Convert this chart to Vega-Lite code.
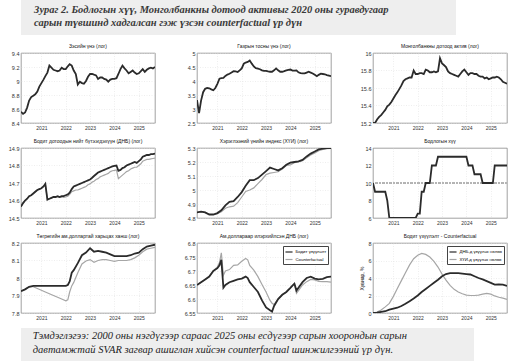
{
  "$schema": "https://vega.github.io/schema/vega-lite/v6.json",
  "padding": {"left": 7, "top": 0, "right": 4, "bottom": 0},
  "background": "white",
  "config": {
    "font": "Liberation Sans",
    "view": {"stroke": "#7a7a7a", "strokeWidth": 0.7},
    "axis": {"labelFontSize": 5.5, "labelColor": "#333", "ticks": false, "domain": false, "gridColor": "#dcdcdc", "gridDash": [1, 1.5], "gridWidth": 0.5, "labelPadding": 2},
    "title": {"fontSize": 5, "fontWeight": "normal", "offset": 2, "color": "#111"},
    "legend": {"orient": "top-right", "offset": 3, "fillColor": "#ffffff", "strokeColor": "#444", "padding": 1.5, "labelFontSize": 4.3, "symbolType": "stroke", "symbolSize": 50, "symbolStrokeWidth": 1.2, "rowPadding": 0.5, "labelOffset": 2, "labelLimit": 200}
  },
  "datasets": {
    "p1": [{"d":"2020-03","v":8.56},{"d":"2020-04","v":8.53},{"d":"2020-05","v":8.55},{"d":"2020-06","v":8.62},{"d":"2020-07","v":8.72},{"d":"2020-08","v":8.77},{"d":"2020-09","v":8.79},{"d":"2020-10","v":8.81},{"d":"2020-11","v":8.85},{"d":"2020-12","v":8.92},{"d":"2021-01","v":8.97},{"d":"2021-02","v":9.02},{"d":"2021-03","v":9.07},{"d":"2021-04","v":9.12},{"d":"2021-05","v":9.22},{"d":"2021-06","v":9.19},{"d":"2021-07","v":9.16},{"d":"2021-08","v":9.15},{"d":"2021-09","v":9.14},{"d":"2021-10","v":9.15},{"d":"2021-11","v":9.19},{"d":"2021-12","v":9.17},{"d":"2022-01","v":9.17},{"d":"2022-02","v":9.21},{"d":"2022-03","v":9.24},{"d":"2022-04","v":9.22},{"d":"2022-05","v":9.15},{"d":"2022-06","v":9.1},{"d":"2022-07","v":8.95},{"d":"2022-08","v":8.99},{"d":"2022-09","v":8.97},{"d":"2022-10","v":8.96},{"d":"2022-11","v":9.0},{"d":"2022-12","v":9.06},{"d":"2023-01","v":9.1},{"d":"2023-02","v":9.1},{"d":"2023-03","v":9.09},{"d":"2023-04","v":9.08},{"d":"2023-05","v":9.03},{"d":"2023-06","v":9.05},{"d":"2023-07","v":9.05},{"d":"2023-08","v":9.03},{"d":"2023-09","v":9.02},{"d":"2023-10","v":8.99},{"d":"2023-11","v":9.02},{"d":"2023-12","v":9.03},{"d":"2024-01","v":9.03},{"d":"2024-02","v":9.04},{"d":"2024-03","v":9.1},{"d":"2024-04","v":9.17},{"d":"2024-05","v":9.22},{"d":"2024-06","v":9.18},{"d":"2024-07","v":9.15},{"d":"2024-08","v":9.11},{"d":"2024-09","v":9.13},{"d":"2024-10","v":9.15},{"d":"2024-11","v":9.12},{"d":"2024-12","v":9.1},{"d":"2025-01","v":9.11},{"d":"2025-02","v":9.14},{"d":"2025-03","v":9.17},{"d":"2025-04","v":9.13},{"d":"2025-05","v":9.16},{"d":"2025-06","v":9.18},{"d":"2025-07","v":9.19},{"d":"2025-08","v":9.18},{"d":"2025-09","v":9.2}],
    "p2": [{"d":"2020-03","v":3.32},{"d":"2020-04","v":2.85},{"d":"2020-05","v":3.3},{"d":"2020-06","v":3.6},{"d":"2020-07","v":3.72},{"d":"2020-08","v":3.75},{"d":"2020-09","v":3.74},{"d":"2020-10","v":3.7},{"d":"2020-11","v":3.67},{"d":"2020-12","v":3.75},{"d":"2021-01","v":3.9},{"d":"2021-02","v":4.08},{"d":"2021-03","v":4.1},{"d":"2021-04","v":4.11},{"d":"2021-05","v":4.18},{"d":"2021-06","v":4.23},{"d":"2021-07","v":4.26},{"d":"2021-08","v":4.3},{"d":"2021-09","v":4.35},{"d":"2021-10","v":4.34},{"d":"2021-11","v":4.32},{"d":"2021-12","v":4.38},{"d":"2022-01","v":4.45},{"d":"2022-02","v":4.62},{"d":"2022-03","v":4.66},{"d":"2022-04","v":4.68},{"d":"2022-05","v":4.73},{"d":"2022-06","v":4.62},{"d":"2022-07","v":4.52},{"d":"2022-08","v":4.46},{"d":"2022-09","v":4.44},{"d":"2022-10","v":4.42},{"d":"2022-11","v":4.38},{"d":"2022-12","v":4.36},{"d":"2023-01","v":4.36},{"d":"2023-02","v":4.34},{"d":"2023-03","v":4.33},{"d":"2023-04","v":4.33},{"d":"2023-05","v":4.38},{"d":"2023-06","v":4.45},{"d":"2023-07","v":4.38},{"d":"2023-08","v":4.33},{"d":"2023-09","v":4.33},{"d":"2023-10","v":4.35},{"d":"2023-11","v":4.38},{"d":"2023-12","v":4.4},{"d":"2024-01","v":4.41},{"d":"2024-02","v":4.37},{"d":"2024-03","v":4.37},{"d":"2024-04","v":4.38},{"d":"2024-05","v":4.31},{"d":"2024-06","v":4.28},{"d":"2024-07","v":4.27},{"d":"2024-08","v":4.27},{"d":"2024-09","v":4.3},{"d":"2024-10","v":4.33},{"d":"2024-11","v":4.3},{"d":"2024-12","v":4.27},{"d":"2025-01","v":4.22},{"d":"2025-02","v":4.17},{"d":"2025-03","v":4.22},{"d":"2025-04","v":4.26},{"d":"2025-05","v":4.25},{"d":"2025-06","v":4.24},{"d":"2025-07","v":4.21},{"d":"2025-08","v":4.19},{"d":"2025-09","v":4.17}],
    "p3": [{"d":"2020-03","v":15.2},{"d":"2020-04","v":15.2},{"d":"2020-05","v":15.24},{"d":"2020-06","v":15.27},{"d":"2020-07","v":15.29},{"d":"2020-08","v":15.32},{"d":"2020-09","v":15.35},{"d":"2020-10","v":15.39},{"d":"2020-11","v":15.41},{"d":"2020-12","v":15.44},{"d":"2021-01","v":15.48},{"d":"2021-02","v":15.52},{"d":"2021-03","v":15.55},{"d":"2021-04","v":15.59},{"d":"2021-05","v":15.63},{"d":"2021-06","v":15.68},{"d":"2021-07","v":15.7},{"d":"2021-08","v":15.71},{"d":"2021-09","v":15.72},{"d":"2021-10","v":15.72},{"d":"2021-11","v":15.8},{"d":"2021-12","v":15.76},{"d":"2022-01","v":15.76},{"d":"2022-02","v":15.77},{"d":"2022-03","v":15.77},{"d":"2022-04","v":15.76},{"d":"2022-05","v":15.81},{"d":"2022-06","v":15.8},{"d":"2022-07","v":15.78},{"d":"2022-08","v":15.78},{"d":"2022-09","v":15.79},{"d":"2022-10","v":15.78},{"d":"2022-11","v":15.79},{"d":"2022-12","v":15.94},{"d":"2023-01","v":15.88},{"d":"2023-02","v":15.86},{"d":"2023-03","v":15.84},{"d":"2023-04","v":15.79},{"d":"2023-05","v":15.77},{"d":"2023-06","v":15.76},{"d":"2023-07","v":15.75},{"d":"2023-08","v":15.74},{"d":"2023-09","v":15.73},{"d":"2023-10","v":15.76},{"d":"2023-11","v":15.79},{"d":"2023-12","v":15.81},{"d":"2024-01","v":15.78},{"d":"2024-02","v":15.75},{"d":"2024-03","v":15.77},{"d":"2024-04","v":15.77},{"d":"2024-05","v":15.76},{"d":"2024-06","v":15.76},{"d":"2024-07","v":15.74},{"d":"2024-08","v":15.73},{"d":"2024-09","v":15.73},{"d":"2024-10","v":15.71},{"d":"2024-11","v":15.72},{"d":"2024-12","v":15.7},{"d":"2025-01","v":15.71},{"d":"2025-02","v":15.72},{"d":"2025-03","v":15.72},{"d":"2025-04","v":15.73},{"d":"2025-05","v":15.72},{"d":"2025-06","v":15.7},{"d":"2025-07","v":15.67},{"d":"2025-08","v":15.66},{"d":"2025-09","v":15.65}],
    "p4": [{"d":"2020-03","a":14.565,"b":14.565},{"d":"2020-04","a":14.585,"b":14.585},{"d":"2020-05","a":14.6,"b":14.6},{"d":"2020-06","a":14.61,"b":14.61},{"d":"2020-07","a":14.625,"b":14.625},{"d":"2020-08","a":14.63,"b":14.63},{"d":"2020-09","a":14.64,"b":14.64},{"d":"2020-10","a":14.65,"b":14.65},{"d":"2020-11","a":14.66,"b":14.66},{"d":"2020-12","a":14.665,"b":14.665},{"d":"2021-01","a":14.67,"b":14.67},{"d":"2021-02","a":14.68,"b":14.68},{"d":"2021-03","a":14.695,"b":14.695},{"d":"2021-04","a":14.605,"b":14.605},{"d":"2021-05","a":14.61,"b":14.61},{"d":"2021-06","a":14.615,"b":14.615},{"d":"2021-07","a":14.62,"b":14.62},{"d":"2021-08","a":14.62,"b":14.62},{"d":"2021-09","a":14.625,"b":14.622},{"d":"2021-10","a":14.62,"b":14.618},{"d":"2021-11","a":14.625,"b":14.62},{"d":"2021-12","a":14.625,"b":14.618},{"d":"2022-01","a":14.63,"b":14.62},{"d":"2022-02","a":14.635,"b":14.625},{"d":"2022-03","a":14.645,"b":14.635},{"d":"2022-04","a":14.665,"b":14.65},{"d":"2022-05","a":14.68,"b":14.655},{"d":"2022-06","a":14.685,"b":14.66},{"d":"2022-07","a":14.69,"b":14.66},{"d":"2022-08","a":14.695,"b":14.665},{"d":"2022-09","a":14.7,"b":14.67},{"d":"2022-10","a":14.705,"b":14.675},{"d":"2022-11","a":14.71,"b":14.68},{"d":"2022-12","a":14.715,"b":14.69},{"d":"2023-01","a":14.72,"b":14.695},{"d":"2023-02","a":14.73,"b":14.705},{"d":"2023-03","a":14.74,"b":14.71},{"d":"2023-04","a":14.75,"b":14.72},{"d":"2023-05","a":14.76,"b":14.725},{"d":"2023-06","a":14.765,"b":14.735},{"d":"2023-07","a":14.77,"b":14.74},{"d":"2023-08","a":14.775,"b":14.745},{"d":"2023-09","a":14.78,"b":14.75},{"d":"2023-10","a":14.785,"b":14.755},{"d":"2023-11","a":14.79,"b":14.765},{"d":"2023-12","a":14.795,"b":14.77},{"d":"2024-01","a":14.798,"b":14.772},{"d":"2024-02","a":14.8,"b":14.775},{"d":"2024-03","a":14.77,"b":14.725},{"d":"2024-04","a":14.775,"b":14.735},{"d":"2024-05","a":14.785,"b":14.745},{"d":"2024-06","a":14.79,"b":14.755},{"d":"2024-07","a":14.8,"b":14.765},{"d":"2024-08","a":14.805,"b":14.77},{"d":"2024-09","a":14.81,"b":14.78},{"d":"2024-10","a":14.815,"b":14.785},{"d":"2024-11","a":14.82,"b":14.79},{"d":"2024-12","a":14.815,"b":14.79},{"d":"2025-01","a":14.825,"b":14.8},{"d":"2025-02","a":14.835,"b":14.81},{"d":"2025-03","a":14.85,"b":14.825},{"d":"2025-04","a":14.855,"b":14.83},{"d":"2025-05","a":14.86,"b":14.835},{"d":"2025-06","a":14.86,"b":14.835},{"d":"2025-07","a":14.865,"b":14.838},{"d":"2025-08","a":14.865,"b":14.84},{"d":"2025-09","a":14.868,"b":14.842}],
    "p5": [{"d":"2020-03","a":4.84,"b":4.84},{"d":"2020-05","a":4.845,"b":4.845},{"d":"2020-07","a":4.84,"b":4.84},{"d":"2020-09","a":4.825,"b":4.825},{"d":"2020-11","a":4.825,"b":4.825},{"d":"2021-01","a":4.835,"b":4.83},{"d":"2021-03","a":4.855,"b":4.845},{"d":"2021-05","a":4.89,"b":4.87},{"d":"2021-07","a":4.915,"b":4.88},{"d":"2021-09","a":4.92,"b":4.885},{"d":"2021-11","a":4.95,"b":4.91},{"d":"2022-01","a":4.985,"b":4.95},{"d":"2022-03","a":5.03,"b":4.99},{"d":"2022-05","a":5.07,"b":5.0},{"d":"2022-07","a":5.07,"b":5.015},{"d":"2022-09","a":5.085,"b":5.045},{"d":"2022-11","a":5.11,"b":5.075},{"d":"2023-01","a":5.135,"b":5.11},{"d":"2023-03","a":5.16,"b":5.12},{"d":"2023-05","a":5.15,"b":5.125},{"d":"2023-07","a":5.14,"b":5.13},{"d":"2023-09","a":5.155,"b":5.15},{"d":"2023-11","a":5.18,"b":5.175},{"d":"2024-01","a":5.195,"b":5.18},{"d":"2024-03","a":5.2,"b":5.195},{"d":"2024-05","a":5.205,"b":5.2},{"d":"2024-07","a":5.215,"b":5.21},{"d":"2024-09","a":5.24,"b":5.23},{"d":"2024-11","a":5.26,"b":5.25},{"d":"2025-01","a":5.275,"b":5.265},{"d":"2025-03","a":5.29,"b":5.28},{"d":"2025-05","a":5.295,"b":5.29},{"d":"2025-07","a":5.3,"b":5.295},{"d":"2025-09","a":5.3,"b":5.298}],
    "p6": [{"d":"2020-03","v":10},{"d":"2020-04","v":9},{"d":"2020-09","v":9},{"d":"2020-10","v":8},{"d":"2020-11","v":6},{"d":"2021-12","v":6},{"d":"2022-01","v":6.5},{"d":"2022-02","v":6.5},{"d":"2022-03","v":9},{"d":"2022-04","v":9},{"d":"2022-05","v":10},{"d":"2022-07","v":10},{"d":"2022-08","v":12},{"d":"2022-10","v":12},{"d":"2022-11","v":13},{"d":"2024-01","v":13},{"d":"2024-02","v":12},{"d":"2024-04","v":12},{"d":"2024-05","v":11},{"d":"2024-08","v":11},{"d":"2024-09","v":10},{"d":"2025-02","v":10},{"d":"2025-03","v":12},{"d":"2025-09","v":12}],
    "p7": [{"d":"2020-03","a":7.925,"b":7.925},{"d":"2020-05","a":7.935,"b":7.935},{"d":"2020-07","a":7.95,"b":7.95},{"d":"2020-09","a":7.955,"b":7.95},{"d":"2020-11","a":7.955,"b":7.94},{"d":"2021-01","a":7.955,"b":7.93},{"d":"2021-03","a":7.955,"b":7.92},{"d":"2021-05","a":7.955,"b":7.91},{"d":"2021-07","a":7.955,"b":7.9},{"d":"2021-09","a":7.955,"b":7.89},{"d":"2021-11","a":7.955,"b":7.88},{"d":"2022-01","a":7.955,"b":7.87},{"d":"2022-02","a":7.96,"b":7.875},{"d":"2022-03","a":7.98,"b":7.92},{"d":"2022-04","a":8.03,"b":7.955},{"d":"2022-05","a":8.045,"b":7.975},{"d":"2022-07","a":8.085,"b":8.03},{"d":"2022-09","a":8.13,"b":8.08},{"d":"2022-11","a":8.145,"b":8.097},{"d":"2023-01","a":8.17,"b":8.105},{"d":"2023-03","a":8.15,"b":8.09},{"d":"2023-05","a":8.155,"b":8.1},{"d":"2023-07","a":8.15,"b":8.105},{"d":"2023-09","a":8.145,"b":8.105},{"d":"2023-11","a":8.135,"b":8.1},{"d":"2024-01","a":8.125,"b":8.095},{"d":"2024-03","a":8.125,"b":8.1},{"d":"2024-05","a":8.125,"b":8.1},{"d":"2024-07","a":8.125,"b":8.1},{"d":"2024-09","a":8.13,"b":8.105},{"d":"2024-11","a":8.14,"b":8.115},{"d":"2025-01","a":8.145,"b":8.13},{"d":"2025-03","a":8.165,"b":8.15},{"d":"2025-05","a":8.18,"b":8.165},{"d":"2025-07","a":8.185,"b":8.17},{"d":"2025-09","a":8.19,"b":8.175}],
    "p8": [{"d":"2020-03","a":6.65,"b":6.65},{"d":"2020-05","a":6.66,"b":6.66},{"d":"2020-07","a":6.67,"b":6.67},{"d":"2020-09","a":6.68,"b":6.68},{"d":"2020-11","a":6.7,"b":6.7},{"d":"2021-01","a":6.71,"b":6.715},{"d":"2021-02","a":6.72,"b":6.73},{"d":"2021-03","a":6.74,"b":6.765},{"d":"2021-04","a":6.64,"b":6.685},{"d":"2021-05","a":6.65,"b":6.7},{"d":"2021-07","a":6.66,"b":6.705},{"d":"2021-09","a":6.665,"b":6.72},{"d":"2021-11","a":6.67,"b":6.722},{"d":"2022-01","a":6.673,"b":6.735},{"d":"2022-03","a":6.68,"b":6.745},{"d":"2022-04","a":6.675,"b":6.74},{"d":"2022-05","a":6.66,"b":6.72},{"d":"2022-07","a":6.643,"b":6.703},{"d":"2022-09","a":6.625,"b":6.68},{"d":"2022-11","a":6.595,"b":6.652},{"d":"2023-01","a":6.57,"b":6.625},{"d":"2023-03","a":6.56,"b":6.595},{"d":"2023-04","a":6.555,"b":6.585},{"d":"2023-05","a":6.575,"b":6.58},{"d":"2023-07","a":6.6,"b":6.6},{"d":"2023-09","a":6.615,"b":6.615},{"d":"2023-11","a":6.625,"b":6.625},{"d":"2024-01","a":6.64,"b":6.64},{"d":"2024-02","a":6.648,"b":6.648},{"d":"2024-03","a":6.655,"b":6.655},{"d":"2024-04","a":6.63,"b":6.62},{"d":"2024-05","a":6.64,"b":6.63},{"d":"2024-07","a":6.66,"b":6.65},{"d":"2024-09","a":6.675,"b":6.662},{"d":"2024-11","a":6.68,"b":6.67},{"d":"2025-01","a":6.673,"b":6.668},{"d":"2025-03","a":6.67,"b":6.663},{"d":"2025-05","a":6.672,"b":6.662},{"d":"2025-07","a":6.678,"b":6.662},{"d":"2025-09","a":6.68,"b":6.66}],
    "p9": [{"d":"2020-03","a":0,"b":0},{"d":"2020-05","a":0.05,"b":0.1},{"d":"2020-07","a":0.12,"b":0.35},{"d":"2020-09","a":0.2,"b":0.7},{"d":"2020-11","a":0.38,"b":1.1},{"d":"2021-01","a":0.5,"b":1.9},{"d":"2021-03","a":0.6,"b":2.8},{"d":"2021-05","a":0.8,"b":3.7},{"d":"2021-07","a":1.05,"b":4.6},{"d":"2021-09","a":1.35,"b":5.5},{"d":"2021-11","a":1.65,"b":6.2},{"d":"2022-01","a":2.0,"b":6.6},{"d":"2022-03","a":2.4,"b":6.8},{"d":"2022-05","a":2.75,"b":6.7},{"d":"2022-07","a":3.1,"b":6.4},{"d":"2022-09","a":3.45,"b":5.9},{"d":"2022-11","a":3.8,"b":5.25},{"d":"2023-01","a":4.2,"b":4.45},{"d":"2023-03","a":4.45,"b":3.75},{"d":"2023-05","a":4.55,"b":3.15},{"d":"2023-07","a":4.55,"b":2.7},{"d":"2023-09","a":4.55,"b":2.4},{"d":"2023-11","a":4.5,"b":2.2},{"d":"2024-01","a":4.45,"b":2.05},{"d":"2024-03","a":4.4,"b":2.0},{"d":"2024-05","a":4.2,"b":2.0},{"d":"2024-07","a":4.0,"b":2.05},{"d":"2024-09","a":3.85,"b":2.15},{"d":"2024-11","a":3.65,"b":2.25},{"d":"2025-01","a":3.45,"b":2.15},{"d":"2025-03","a":3.25,"b":1.95},{"d":"2025-05","a":3.28,"b":1.8},{"d":"2025-07","a":3.25,"b":1.7},{"d":"2025-09","a":3.1,"b":1.55}]
  },
  "vconcat": [
    {
      "width": 435, "height": 35,
      "view": {"fill": "#eeeeee", "stroke": null},
      "data": {"values": [{"line": 1, "text": "Зураг 2. Бодлогын хүү, Монголбанкны дотоод активыг 2020 оны гуравдугаар"}, {"line": 2, "text": "сарын түвшинд хадгалсан гэж үзсэн counterfactual үр дүн"}]},
      "mark": {"type": "text", "align": "left", "baseline": "alphabetic", "font": "Liberation Serif", "fontStyle": "italic", "fontWeight": "bold", "fontSize": 10.5, "color": "#3a3a3a"},
      "encoding": {
        "x": {"datum": 0.03, "type": "quantitative", "scale": {"domain": [0, 1]}, "axis": null},
        "y": {"field": "line", "type": "quantitative", "scale": {"domain": [0, 2.69], "reverse": true}, "axis": null},
        "text": {"field": "text"}
      }
    },
    {
      "spacing": 7,
      "vconcat": [
        {
          "bounds": "flush", "spacing": 42,
          "hconcat": [
            {"width": 134, "height": 70, "title": "Зэсийн үнэ (лог)", "data": {"name": "p1"},
             "mark": {"type": "line", "color": "#2b2b2b", "strokeWidth": 1.8, "clip": true},
             "encoding": {
               "x": {"field": "d", "type": "temporal", "title": null, "scale": {"type": "utc", "domain": [{"year": 2020, "month": 3, "date": 1, "utc": true}, {"year": 2025, "month": 9, "date": 1, "utc": true}]}, "axis": {"tickCount": {"interval": "year", "step": 1}, "format": "%Y", "labelFontSize": 5}},
               "y": {"field": "v", "type": "quantitative", "title": null, "scale": {"domain": [8.4, 9.4], "nice": false, "zero": false}, "axis": {"values": [8.4, 8.6, 8.8, 9, 9.2, 9.4], "format": ".4~r"}}
             }},
            {"width": 134, "height": 70, "title": "Газрын тосны үнэ (лог)", "data": {"name": "p2"},
             "mark": {"type": "line", "color": "#2b2b2b", "strokeWidth": 1.8, "clip": true},
             "encoding": {
               "x": {"field": "d", "type": "temporal", "title": null, "scale": {"type": "utc", "domain": [{"year": 2020, "month": 3, "date": 1, "utc": true}, {"year": 2025, "month": 9, "date": 1, "utc": true}]}, "axis": {"tickCount": {"interval": "year", "step": 1}, "format": "%Y", "labelFontSize": 5}},
               "y": {"field": "v", "type": "quantitative", "title": null, "scale": {"domain": [2.5, 5], "nice": false, "zero": false}, "axis": {"values": [2.5, 3, 3.5, 4, 4.5, 5], "format": ".4~r"}}
             }},
            {"width": 134, "height": 70, "title": "Монголбанкны дотоод актив (лог)", "data": {"name": "p3"},
             "mark": {"type": "line", "color": "#2b2b2b", "strokeWidth": 1.8, "clip": true},
             "encoding": {
               "x": {"field": "d", "type": "temporal", "title": null, "scale": {"type": "utc", "domain": [{"year": 2020, "month": 3, "date": 1, "utc": true}, {"year": 2025, "month": 9, "date": 1, "utc": true}]}, "axis": {"tickCount": {"interval": "year", "step": 1}, "format": "%Y", "labelFontSize": 5}},
               "y": {"field": "v", "type": "quantitative", "title": null, "scale": {"domain": [15.2, 16], "nice": false, "zero": false}, "axis": {"values": [15.2, 15.4, 15.6, 15.8, 16], "format": ".4~r"}}
             }}
          ]
        },
        {
          "bounds": "flush", "spacing": 42,
          "hconcat": [
            {"width": 134, "height": 70, "title": "Бодит дотоодын нийт бүтээгдэхүүн (ДНБ) (лог)", "data": {"name": "p4"},
             "encoding": {
               "x": {"field": "d", "type": "temporal", "title": null, "scale": {"type": "utc", "domain": [{"year": 2020, "month": 3, "date": 1, "utc": true}, {"year": 2025, "month": 9, "date": 1, "utc": true}]}, "axis": {"tickCount": {"interval": "year", "step": 1}, "format": "%Y", "labelFontSize": 5}}
             },
             "layer": [
               {"mark": {"type": "line", "color": "#a6a6a6", "strokeWidth": 1.2, "clip": true},
                "encoding": {"y": {"field": "b", "type": "quantitative", "title": null, "scale": {"domain": [14.5, 14.9], "nice": false, "zero": false}, "axis": {"values": [14.5, 14.6, 14.7, 14.8, 14.9], "format": ".4~r"}}}},
               {"mark": {"type": "line", "color": "#2b2b2b", "strokeWidth": 1.8, "clip": true},
                "encoding": {"y": {"field": "a", "type": "quantitative", "title": null, "scale": {"domain": [14.5, 14.9], "nice": false, "zero": false}, "axis": {"values": [14.5, 14.6, 14.7, 14.8, 14.9], "format": ".4~r"}}}}
             ]},
            {"width": 134, "height": 70, "title": "Хэрэглээний үнийн индекс (ХҮИ) (лог)", "data": {"name": "p5"},
             "encoding": {
               "x": {"field": "d", "type": "temporal", "title": null, "scale": {"type": "utc", "domain": [{"year": 2020, "month": 3, "date": 1, "utc": true}, {"year": 2025, "month": 9, "date": 1, "utc": true}]}, "axis": {"tickCount": {"interval": "year", "step": 1}, "format": "%Y", "labelFontSize": 5}}
             },
             "layer": [
               {"mark": {"type": "line", "color": "#a6a6a6", "strokeWidth": 1.2, "clip": true},
                "encoding": {"y": {"field": "b", "type": "quantitative", "title": null, "scale": {"domain": [4.8, 5.3], "nice": false, "zero": false}, "axis": {"values": [4.8, 4.9, 5, 5.1, 5.2, 5.3], "format": ".4~r"}}}},
               {"mark": {"type": "line", "color": "#2b2b2b", "strokeWidth": 1.8, "clip": true},
                "encoding": {"y": {"field": "a", "type": "quantitative", "title": null, "scale": {"domain": [4.8, 5.3], "nice": false, "zero": false}, "axis": {"values": [4.8, 4.9, 5, 5.1, 5.2, 5.3], "format": ".4~r"}}}}
             ]},
            {"width": 134, "height": 70, "title": "Бодлогын хүү", "data": {"name": "p6"},
             "encoding": {
               "x": {"field": "d", "type": "temporal", "title": null, "scale": {"type": "utc", "domain": [{"year": 2020, "month": 3, "date": 1, "utc": true}, {"year": 2025, "month": 9, "date": 1, "utc": true}]}, "axis": {"tickCount": {"interval": "year", "step": 1}, "format": "%Y", "labelFontSize": 5}}
             },
             "layer": [
               {"mark": {"type": "rule", "color": "#b5b5b5", "strokeDash": [2, 1.5], "strokeWidth": 0.7},
                "encoding": {"y": {"datum": 10, "type": "quantitative", "title": null, "scale": {"domain": [6, 14], "nice": false, "zero": false}, "axis": {"values": [6, 8, 10, 12, 14], "format": ".4~r"}}, "x": null}},
               {"mark": {"type": "line", "color": "#2b2b2b", "strokeWidth": 1.8, "clip": true},
                "encoding": {"y": {"field": "v", "type": "quantitative", "title": null, "scale": {"domain": [6, 14], "nice": false, "zero": false}, "axis": {"values": [6, 8, 10, 12, 14], "format": ".4~r"}}}}
             ]}
          ]
        },
        {
          "bounds": "flush", "spacing": 42,
          "resolve": {"scale": {"color": "independent"}},
          "hconcat": [
            {"width": 134, "height": 70, "title": "Төгрөгийн ам.доллартай харьцах ханш (лог)", "data": {"name": "p7"},
             "encoding": {
               "x": {"field": "d", "type": "temporal", "title": null, "scale": {"type": "utc", "domain": [{"year": 2020, "month": 3, "date": 1, "utc": true}, {"year": 2025, "month": 9, "date": 1, "utc": true}]}, "axis": {"tickCount": {"interval": "year", "step": 1}, "format": "%Y", "labelFontSize": 5}}
             },
             "layer": [
               {"mark": {"type": "line", "color": "#a6a6a6", "strokeWidth": 1.2, "clip": true},
                "encoding": {"y": {"field": "b", "type": "quantitative", "title": null, "scale": {"domain": [7.8, 8.2], "nice": false, "zero": false}, "axis": {"values": [7.8, 7.9, 8, 8.1, 8.2], "format": ".4~r"}}}},
               {"mark": {"type": "line", "color": "#2b2b2b", "strokeWidth": 1.8, "clip": true},
                "encoding": {"y": {"field": "a", "type": "quantitative", "title": null, "scale": {"domain": [7.8, 8.2], "nice": false, "zero": false}, "axis": {"values": [7.8, 7.9, 8, 8.1, 8.2], "format": ".4~r"}}}}
             ]},
            {"width": 134, "height": 70, "title": "Ам.доллараар илэрхийлсэн ДНБ (лог)", "data": {"name": "p8"},
             "encoding": {
               "x": {"field": "d", "type": "temporal", "title": null, "scale": {"type": "utc", "domain": [{"year": 2020, "month": 3, "date": 1, "utc": true}, {"year": 2025, "month": 9, "date": 1, "utc": true}]}, "axis": {"tickCount": {"interval": "year", "step": 1}, "format": "%Y", "labelFontSize": 5}}
             },
             "layer": [
               {"mark": {"type": "line", "strokeWidth": 1.2, "clip": true},
                "encoding": {"y": {"field": "b", "type": "quantitative", "title": null, "scale": {"domain": [6.55, 6.8], "nice": false, "zero": false}, "axis": {"values": [6.55, 6.6, 6.65, 6.7, 6.75, 6.8], "format": ".4~r"}},
                  "color": {"datum": "Counterfactual", "type": "nominal", "scale": {"domain": ["Бодит үзүүлэлт", "Counterfactual"], "range": ["#2b2b2b", "#a6a6a6"]}, "legend": {"title": null, "offset": 3}}}},
               {"mark": {"type": "line", "strokeWidth": 1.8, "clip": true},
                "encoding": {"y": {"field": "a", "type": "quantitative", "title": null, "scale": {"domain": [6.55, 6.8], "nice": false, "zero": false}, "axis": {"values": [6.55, 6.6, 6.65, 6.7, 6.75, 6.8], "format": ".4~r"}}, "color": {"datum": "Бодит үзүүлэлт", "type": "nominal"}}}
             ]},
            {"width": 134, "height": 70, "title": "Бодит үзүүлэлт - Counterfactual", "data": {"name": "p9"},
             "encoding": {
               "x": {"field": "d", "type": "temporal", "title": null, "scale": {"type": "utc", "domain": [{"year": 2020, "month": 3, "date": 1, "utc": true}, {"year": 2025, "month": 9, "date": 1, "utc": true}]}, "axis": {"tickCount": {"interval": "year", "step": 1}, "format": "%Y", "labelFontSize": 5}}
             },
             "layer": [
               {"mark": {"type": "line", "strokeWidth": 1.2, "clip": true},
                "encoding": {"y": {"field": "b", "type": "quantitative", "title": "Хувиар, %", "scale": {"domain": [0, 8], "nice": false}, "axis": {"values": [0, 2, 4, 6, 8], "format": ".4~r", "titleFontSize": 5, "titleFontWeight": "normal", "titlePadding": 3}},
                  "color": {"datum": "ХҮИ-д үзүүлэх нөлөө", "type": "nominal", "scale": {"domain": ["ДНБ-д үзүүлэх нөлөө", "ХҮИ-д үзүүлэх нөлөө"], "range": ["#2b2b2b", "#a6a6a6"]}, "legend": {"title": null, "offset": 3}}}},
               {"mark": {"type": "line", "strokeWidth": 1.8, "clip": true},
                "encoding": {"y": {"field": "a", "type": "quantitative", "title": "Хувиар, %", "scale": {"domain": [0, 8], "nice": false}, "axis": {"values": [0, 2, 4, 6, 8], "format": ".4~r", "titleFontSize": 5, "titleFontWeight": "normal", "titlePadding": 3}}, "color": {"datum": "ДНБ-д үзүүлэх нөлөө", "type": "nominal"}}}
             ]}
          ]
        },
        {
          "width": 453, "height": 33,
          "view": {"fill": "#eeeeee", "stroke": null},
          "data": {"values": [{"line": 1, "text": "Тэмдэглэгээ: 2000 оны нэгдүгээр сараас 2025 оны есдүгээр сарын хоорондын сарын"}, {"line": 2, "text": "давтамжтай SVAR загвар ашиглан хийсэн counterfactual шинжилгээний үр дүн."}]},
          "mark": {"type": "text", "align": "left", "baseline": "alphabetic", "font": "Liberation Serif", "fontStyle": "italic", "fontWeight": "normal", "fontSize": 10.5, "color": "#222222"},
          "encoding": {
            "x": {"datum": 0.026, "type": "quantitative", "scale": {"domain": [0, 1]}, "axis": null},
            "y": {"field": "line", "type": "quantitative", "scale": {"domain": [0.214, 2.571], "reverse": true}, "axis": null},
            "text": {"field": "text"}
          }
        }
      ]
    }
  ],
  "spacing": 8
}
